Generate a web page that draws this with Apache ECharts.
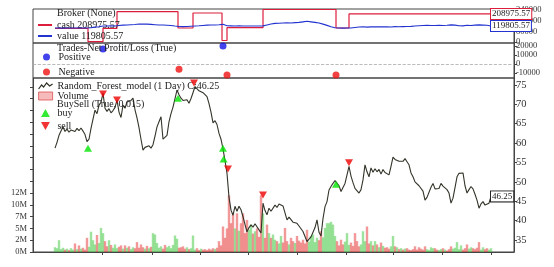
<!DOCTYPE html>
<html><head><meta charset="utf-8">
<script src="https://cdn.jsdelivr.net/npm/echarts@6/dist/echarts.min.js"></script>
<style>html,body{margin:0;padding:0;background:#fff}#c{width:554px;height:267px}</style>
</head><body><div id="c"></div>
<script>
// ---- data (bar index on x) ----
const price = [
58.7,60.2,62.0,63.1,64.2,63.0,63.6,62.8,63.4,63.6,
63.0,63.8,63.2,63.9,63.1,62.2,60.4,61.0,63.8,66.2,
68.5,67.6,69.8,70.5,72.9,69.0,68.2,68.9,67.8,68.4,
69.2,71.1,68.0,66.6,69.8,69.0,70.6,70.2,71.0,71.6,
68.6,66.5,64.0,61.0,58.2,58.9,58.4,59.3,58.7,59.6,
61.8,64.2,65.5,66.8,61.0,60.8,62.0,65.5,67.6,69.3,
71.5,73.7,72.5,71.6,71.0,70.6,71.2,70.3,71.5,73.0,
74.6,74.2,73.5,74.0,73.0,72.6,72.0,70.2,68.0,65.2,
65.8,64.8,62.5,61.0,58.5,55.5,52.2,46.0,42.7,41.4,
43.7,42.4,43.7,42.8,41.0,39.0,37.1,38.2,38.9,38.3,
39.2,38.9,37.6,36.8,44.5,42.6,41.5,43.2,42.4,42.8,
44.0,43.4,44.3,44.8,43.8,42.0,40.2,40.9,40.6,39.6,
39.9,39.3,38.6,38.1,37.2,36.8,34.6,35.2,35.8,37.0,
38.2,40.2,37.0,36.0,40.5,43.6,44.9,47.9,48.8,49.6,
50.3,49.8,49.0,47.5,47.3,49.6,51.8,54.0,51.5,49.8,
48.3,47.9,47.1,48.0,50.5,54.4,52.6,51.3,53.6,52.5,
53.4,52.6,53.2,52.0,53.2,52.4,52.0,51.8,54.0,56.4,
55.8,56.0,55.3,55.6,55.3,56.0,55.2,54.4,52.3,51.3,
50.0,49.6,49.0,48.8,47.6,45.3,46.0,46.5,48.6,49.6,
48.2,47.9,48.3,49.6,48.9,49.3,48.0,47.1,44.5,45.8,
48.5,51.3,52.2,52.6,52.3,49.0,47.1,48.0,48.8,48.2,
46.8,45.3,43.2,44.3,44.9,44.0,43.8,44.5,46.25
];
const volumeM = [
1.0,0.8,2.5,0.6,0.9,0.5,0.7,0.4,0.8,0.5,
1.8,0.6,1.4,0.7,0.9,0.5,3.0,1.1,4.3,2.5,
1.6,3.6,1.9,5.1,4.0,2.3,1.2,2.5,1.5,0.9,
1.6,0.8,1.1,1.4,0.7,1.4,0.9,1.2,0.6,1.0,
0.8,2.1,0.9,1.6,1.0,0.7,1.3,0.8,1.1,4.0,
3.7,1.9,0.9,1.2,0.7,1.5,1.0,1.3,0.8,1.5,
3.5,2.8,0.9,1.0,1.2,0.7,1.0,0.6,0.8,3.5,
0.5,0.8,0.4,0.7,0.5,0.6,0.4,0.7,0.5,0.8,
0.6,0.9,2.3,1.4,5.4,3.0,5.0,12.0,6.1,8.2,
5.0,8.2,4.5,6.1,8.2,4.0,6.8,4.7,5.8,3.9,
4.4,5.0,3.2,12.0,8.2,3.0,5.8,4.0,3.0,3.7,
2.6,2.3,1.8,3.4,2.0,5.1,2.3,1.6,3.0,2.3,
1.9,3.4,2.4,2.0,2.6,1.8,4.7,2.2,3.4,3.7,
2.1,3.0,2.5,4.4,3.1,5.1,6.1,6.1,6.4,5.8,
3.4,2.3,1.4,2.6,1.6,2.2,4.0,1.5,2.0,1.3,
4.0,2.3,1.2,1.6,4.4,2.3,5.4,1.8,2.3,1.4,
2.3,1.6,1.0,2.0,1.3,0.9,1.0,0.7,1.2,3.4,
1.2,1.0,0.6,0.8,0.5,0.7,0.8,0.5,0.4,0.6,
1.2,0.5,1.0,0.7,0.5,1.2,0.6,0.4,1.0,0.8,
0.8,0.5,0.4,0.6,0.8,0.5,0.3,0.6,1.2,0.7,
0.9,2.1,0.6,1.4,0.5,0.8,1.6,0.7,1.0,0.8,
0.6,0.9,2.1,0.5,1.0,0.6,0.8,0.5,0.8
];
// broker value, one reading every 2 bars
const brokerValue = [
104000,104400,103800,104200,104000,104300,104100,104200,104000,106500,
111000,114000,119000,119500,120000,119300,122500,125500,127000,128500,
130000,133500,134500,133000,131000,129000,127000,126500,125000,122500,
119000,116000,114500,115000,117500,119500,121000,123500,125500,126500,
127000,128000,131500,121500,120500,119500,120000,119000,119500,119000,
119500,119200,120000,127000,134000,139000,140000,141500,143000,142000,
144500,146000,150000,154000,150000,146000,141000,133000,124000,114000,
106000,104000,103500,104500,104000,108000,112000,113500,111000,112500,
113500,112500,114000,113000,112000,114500,113500,114500,115000,116500,
119000,121000,123000,125000,122500,123500,124500,123500,125000,127500,
125500,121000,120500,124500,123500,125500,127500,126000,124500,119805.57
];
// broker cash: change points (bar index, cash)
const cashBars = [0,16.5,24,31,61.5,69,83.5,86,104,140.5,147,218];
const cashVals = [102200,3000,102200,225200,104400,215500,11800,106700,241500,104400,208975.57,208975.57];
const buySignals = [[16.5,58.7],[61.5,71.6],[84,58.7],[84.3,55.9],[140.5,49.4]];
const sellSignals = [[24,72.7],[31,71.1],[69.5,75.5],[86.5,53.3],[104,46.6],[147,54.9]];
const tradesPositive = [[24,16700],[84,20000]];
const tradesNegative = [[62,-5900],[86,-12200],[140.5,-12200]];
// ticks
const brokerTicks = [0,80000,160000,240000];
const tradeTicks = [-10000,0,10000,20000];
const priceTicks = [35,40,45,50,55,60,65,70,75];
const volTicks = [0,2.5,5,7.5,10,12.5,15,17.5,20,22.5,25,27.5,30,32.5,35];
const volLabelVals = [0,2.5,5,7.5,10,12.5];
const volLabels = ['0M','2M','5M','7M','10M','12M'];
const xTicks = [23.5,48.5,72.5,96.5,121,145.5,169,193.5,218];

// ---- chart ----
const FONT = 'Liberation Serif';
const AX = '#444';
const TXT = '#222';
const RED = '#dc1e3c', BLUE = '#2233d0';
const chart = echarts.init(document.getElementById('c'), null, {renderer:'canvas'});

function xAx(g, show) {
  return {type:'value', gridIndex:g, min:-11, max:229.5, show:show,
    axisLine:{show:true, onZero:false, lineStyle:{color:AX}},
    axisTick:{show:true, inside:false, length:3, customValues:xTicks, lineStyle:{color:AX}},
    axisLabel:{show:false}, splitLine:{show:false}};
}
function yR(g, min, max, ticks, fs) {
  return {type:'value', gridIndex:g, position:'right', min:min, max:max,
    axisLine:{show:true, onZero:false, lineStyle:{color:AX}},
    axisTick:{show:true, inside:false, length:3, customValues:ticks, lineStyle:{color:AX}},
    axisLabel:{show:true, customValues:ticks, color:'#333', fontFamily:FONT, fontSize:fs, margin:2,
      showMinLabel:true, showMaxLabel:true, hideOverlap:false,
      formatter: v => String(v)},
    splitLine:{show:false}};
}
const lblBox = (border) => ({show:true, distance:0, fontFamily:FONT, fontSize:9, color:TXT,
  backgroundColor:'#fff', borderColor:border, borderWidth:1, padding:[1,1,0,1]});

const volData = volumeM.map((v,i) => ({value:[i, v],
  itemStyle:{color: (i>0 && price[i] < price[i-1]) ? 'rgba(230,50,50,0.5)' : 'rgba(60,200,60,0.5)'}}));

const legendText = {fontFamily:FONT, fontSize:10, color:TXT, lineHeight:10};
const titleStyle = {fontFamily:FONT, fontSize:10, color:TXT, fontWeight:'normal', lineHeight:10};

chart.setOption({
  animation:false,
  backgroundColor:'#fff',
  title:[
    {text:'Broker (None)', left:57, top:8, padding:0, textStyle:titleStyle},
    {text:'Trades-Net Profit/Loss (True)', left:57, top:43, padding:0, textStyle:titleStyle},
    {text:'BuySell (True, 0.015)', left:57, top:99, padding:0, textStyle:titleStyle}
  ],
  legend:[
    {left:38, top:20, orient:'vertical', itemWidth:14, itemHeight:2, itemGap:1, padding:0,
     textStyle:legendText, data:[{name:'cash 208975.57', icon:'rect'},{name:'value 119805.57', icon:'rect'}]},
    {left:43, top:52, orient:'vertical', itemWidth:14, itemHeight:7, itemGap:5, padding:0,
     textStyle:legendText, data:[{name:'Positive', icon:'circle'},{name:'Negative', icon:'circle'}]},
    {left:38, top:81, orient:'vertical', itemWidth:14, itemHeight:8, itemGap:0, padding:0,
     textStyle:legendText, data:[
       {name:'Random_Forest_model (1 Day) C:46.25', icon:'path://M0,7 L3,3 L5,5 L8,1 L11,4 L14,2',
        itemStyle:{color:'rgba(0,0,0,0)', borderColor:'#2f2f25', borderWidth:1.2}},
       {name:'Volume', icon:'rect', itemStyle:{color:'rgba(240,140,140,0.6)', borderColor:'rgba(220,80,80,0.8)', borderWidth:1}}]},
    {left:41, top:108, orient:'vertical', itemWidth:14, itemHeight:8, itemGap:3, padding:0,
     textStyle:legendText, data:[
       {name:'buy', icon:'path://M5,0L10,9L0,9Z'},
       {name:'sell', icon:'path://M0,0L10,0L5,9Z'}]}
  ],
  grid:[
    {left:33, right:40, top:9, height:34, show:true, borderColor:AX, borderWidth:1, backgroundColor:'transparent'},
    {left:33, right:40, top:43, height:35, show:true, borderColor:AX, borderWidth:1, backgroundColor:'transparent'},
    {left:33, right:40, top:78, height:174, show:true, borderColor:AX, borderWidth:1, backgroundColor:'transparent'}
  ],
  xAxis:[xAx(0,false), xAx(1,false), xAx(2,true)],
  yAxis:[
    yR(0, -6700, 245200, brokerTicks, 8.5),
    yR(1, -15556, 23333, tradeTicks, 8.5),
    yR(2, 31.9, 76.8, priceTicks, 10.5),
    {type:'value', gridIndex:2, position:'left', min:0, max:36.86,
     axisLine:{show:true, onZero:false, lineStyle:{color:AX}},
     axisTick:{show:true, inside:false, length:3, customValues:volTicks, lineStyle:{color:AX}},
     axisLabel:{show:true, customValues:volLabelVals, color:'#333', fontFamily:FONT, fontSize:8.5, margin:6,
       showMinLabel:true, showMaxLabel:true, hideOverlap:false,
       formatter: v => { const k = volLabelVals.indexOf(v); return k >= 0 ? volLabels[k] : ''; }},
     splitLine:{show:false}}
  ],
  series:[
    {name:'cash 208975.57', type:'line', xAxisIndex:0, yAxisIndex:0, step:'end', symbol:'none',
     color:RED, lineStyle:{width:1.2, color:RED}, z:3,
     data: cashBars.map((b,k) => [b, cashVals[k]]),
     endLabel:Object.assign(lblBox(RED), {formatter: p => p.value[1].toFixed(2)})},
    {name:'value 119805.57', type:'line', xAxisIndex:0, yAxisIndex:0, symbol:'none',
     color:BLUE, lineStyle:{width:1.1, color:BLUE}, z:4,
     data: brokerValue.map((v,k) => [k*2, v]),
     endLabel:Object.assign(lblBox(BLUE), {formatter: p => p.value[1].toFixed(2)})},
    {name:'Positive', type:'scatter', xAxisIndex:1, yAxisIndex:1, symbol:'circle', symbolSize:7,
     color:'#1414e6', data:tradesPositive, z:5,
     markLine:{silent:true, symbol:'none', label:{show:false},
       lineStyle:{color:'#aaa', type:'dashed', width:0.8}, data:[{yAxis:0}]}},
    {name:'Negative', type:'scatter', xAxisIndex:1, yAxisIndex:1, symbol:'circle', symbolSize:7,
     color:'#ee1111', data:tradesNegative, z:5},
    {name:'Volume', type:'bar', xAxisIndex:2, yAxisIndex:3, barWidth:2.4, barGap:'-100%', z:1,
     color:'rgba(240,140,140,0.6)', data:volData},
    {name:'Random_Forest_model (1 Day) C:46.25', type:'line', xAxisIndex:2, yAxisIndex:2, symbol:'none',
     color:'#2f2f25', lineStyle:{width:1.1, color:'#34342a'}, z:3,
     data: price.map((p,i) => [i, p]),
     endLabel:Object.assign(lblBox('#222'), {formatter: p => p.value[1].toFixed(2)})},
    {name:'buy', type:'scatter', xAxisIndex:2, yAxisIndex:2, symbol:'triangle', symbolSize:[8,7],
     color:'#00e600', data:buySignals, z:6},
    {name:'sell', type:'scatter', xAxisIndex:2, yAxisIndex:2, symbol:'triangle', symbolRotate:180, symbolSize:[8,7],
     color:'#ee0000', data:sellSignals, z:6}
  ]
});
</script></body></html>
